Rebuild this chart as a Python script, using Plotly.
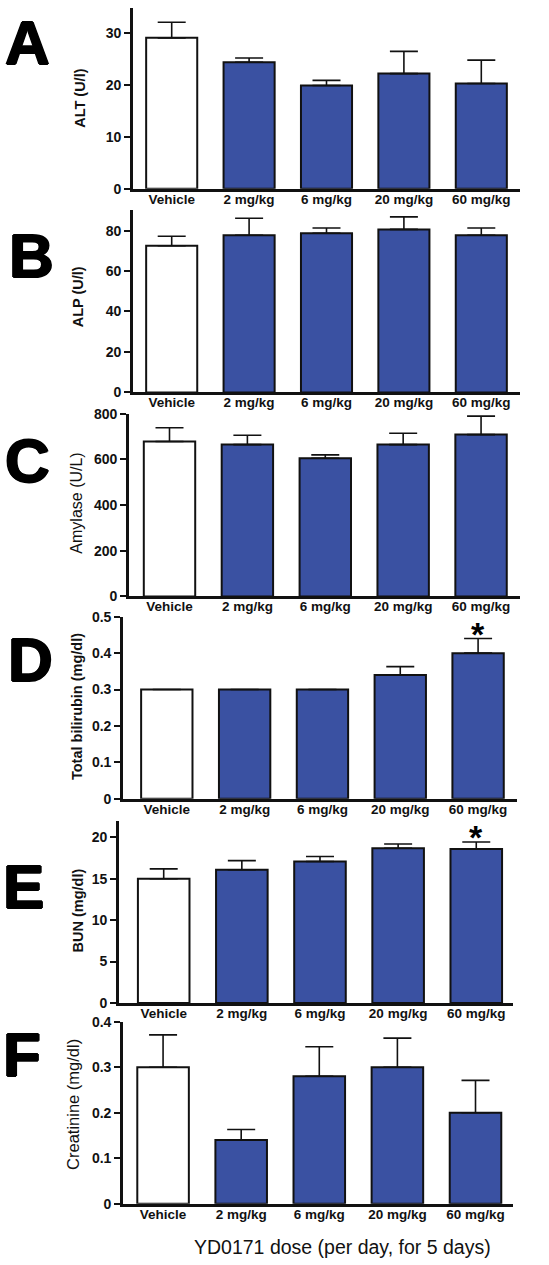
import plotly.graph_objects as go

W, H = 549, 1265

categories = ["Vehicle", "2 mg/kg", "6 mg/kg", "20 mg/kg", "60 mg/kg"]

alt_mean = [29.1, 24.4, 19.9, 22.2, 20.3]
alt_sem = [3.0, 0.8, 1.0, 4.3, 4.5]
alp_mean = [72.5, 77.7, 78.7, 80.6, 77.7]
alp_sem = [4.7, 8.4, 2.6, 6.2, 3.6]
amy_mean = [679, 665, 605, 665, 709]
amy_sem = [60, 41, 15, 50, 81]
bili_mean = [0.30, 0.30, 0.30, 0.34, 0.40]
bili_sem = [0.0, 0.0, 0.0, 0.023, 0.04]
bun_mean = [15.0, 16.1, 17.1, 18.7, 18.6]
bun_sem = [1.2, 1.1, 0.6, 0.5, 0.85]
crea_mean = [0.30, 0.14, 0.28, 0.30, 0.20]
crea_sem = [0.071, 0.023, 0.065, 0.064, 0.071]

panel_letters = ["A", "B", "C", "D", "E", "F"]
y_titles = ["ALT (U/l)", "ALP (U/l)", "Amylase (U/L)", "Total bilirubin (mg/dl)",
            "BUN (mg/dl)", "Creatinine (mg/dl)"]
y_ticks = [
    [0, 10, 20, 30],
    [0, 20, 40, 60, 80],
    [0, 200, 400, 600, 800],
    [0, 0.1, 0.2, 0.3, 0.4, 0.5],
    [0, 5, 10, 15, 20],
    [0, 0.1, 0.2, 0.3, 0.4],
]
y_ticktext = [
    ["0", "10", "20", "30"],
    ["0", "20", "40", "60", "80"],
    ["0", "200", "400", "600", "800"],
    ["0", "0.1", "0.2", "0.3", "0.4", "0.5"],
    ["0", "5", "10", "15", "20"],
    ["0", "0.1", "0.2", "0.3", "0.4"],
]
y_max = [34.86, 90, 800, 0.5, 22, 0.4]
x_title = "YD0171 dose (per day, for 5 days)"
star_text = "*"

means = [alt_mean, alp_mean, amy_mean, bili_mean, bun_mean, crea_mean]
sems = [alt_sem, alp_sem, amy_sem, bili_sem, bun_sem, crea_sem]

# layout geometry in pixels: (axis left, axis right, y of zero, y of top, x range)
geom = [
    (133, 520, 183.0, 0.0, (-0.5, 4.5)),
    (133, 520, 389.3, 205.0, (-0.5, 4.5)),
    (129, 520, 596.0, 411.0, (-0.52, 4.5)),
    (123, 517, 801.0, 616.5, (-0.563, 4.5)),
    (119, 513, 1007.7, 823.3, (-0.572, 4.47)),
    (123, 513, 1211.0, 1026.7, (-0.513, 4.48)),
]
title_pos = [(80, 92), (78, 293), (77, 502), (77, 708), (78, 914), (73, 1111)]
title_bold = [True, True, False, True, True, False]
title_size = [14.5, 14.5, 16, 14.5, 14.5, 16.5]
letter_pos = [(27.5, 34.5), (31, 251), (27.5, 458), (30, 660), (23.5, 890), (21.5, 1060)]
# asterisk: panel index -> y pixel of the glyph centre
star_pos = {3: 626.5, 4: 832.5}
STAR_SIZE = 34

BLUE = "#3a51a2"
FONT = "Liberation Sans, Arial, sans-serif"
THICK = "1px 0px 0px #000, -1px 0px 0px #000, 0px 1px 0px #000, 0px -1px 0px #000"


def px(x):
    return x / W


def py(y):
    return 1 - y / H


fig = go.Figure()
annotations = []
xs = [0, 1, 2, 3, 4]
for i in range(6):
    sfx = "" if i == 0 else str(i + 1)
    xl, xr, y0, yt, xrng = geom[i]
    fig.add_trace(go.Bar(
        x=xs, y=means[i],
        xaxis="x" + sfx, yaxis="y" + sfx,
        width=0.66,
        marker=dict(color=["white"] + [BLUE] * 4, line=dict(color="#111111", width=2)),
        error_y=dict(type="data", symmetric=False, array=sems[i],
                     arrayminus=[0] * 5, color="#111111", thickness=1.6, width=14),
        showlegend=False, hoverinfo="skip",
    ))
    fig.layout["xaxis" + sfx] = dict(
        domain=[px(xl), px(xr)], anchor="y" + sfx, range=list(xrng),
        tickvals=xs, ticktext=categories, ticks="", showline=True,
        linecolor="#111111", linewidth=2.6, showgrid=False, zeroline=False,
        tickfont=dict(family=FONT, size=13.5, color="#111111", weight="bold"),
        ticklabelstandoff=-4,
        fixedrange=True,
    )
    fig.layout["yaxis" + sfx] = dict(
        domain=[py(y0), min(1.0, py(yt))], anchor="x" + sfx, range=[0, y_max[i]],
        tickvals=y_ticks[i], ticktext=y_ticktext[i], ticks="outside", ticklen=6,
        tickwidth=2, tickcolor="#111111", showline=True, linecolor="#111111",
        linewidth=2.6, showgrid=False, zeroline=False,
        tickfont=dict(family=FONT, size=14, color="#111111", weight="bold"),
        fixedrange=True,
    )
    tx, ty = title_pos[i]
    annotations.append(dict(
        x=px(tx), y=py(ty), xref="paper", yref="paper", text=y_titles[i],
        textangle=-90, showarrow=False, xanchor="center", yanchor="middle",
        font=dict(family=FONT, size=title_size[i], color="#111111",
                  weight="bold" if title_bold[i] else "normal"),
    ))
    lx, ly = letter_pos[i]
    annotations.append(dict(
        x=px(lx), y=py(ly), xref="paper", yref="paper", text=panel_letters[i],
        showarrow=False, xanchor="center", yanchor="middle",
        font=dict(family=FONT, size=62, color="#000000", weight="bold", shadow=THICK),
    ))
    if i in star_pos:
        gy = star_pos[i]
        box_mid = gy + 0.22 * STAR_SIZE
        annotations.append(dict(
            x=4, xref="x" + sfx, y=py(box_mid), yref="paper", text=star_text,
            showarrow=False, xanchor="center", yanchor="middle",
            font=dict(family=FONT, size=STAR_SIZE, color="#000000", weight="bold"),
        ))

annotations.append(dict(
    x=px(342), y=py(1255), xref="paper", yref="paper", text=x_title,
    showarrow=False, xanchor="center", yanchor="middle",
    font=dict(family=FONT, size=19.5, color="#111111"),
))

fig.update_layout(
    width=W, height=H, margin=dict(l=0, r=0, t=0, b=0),
    paper_bgcolor="white", plot_bgcolor="white",
    annotations=annotations,
)

fig.write_html(
    "out.html",
    config={"displayModeBar": False},
    post_script="document.body.style.margin='0';document.body.style.overflow='hidden';",
)
